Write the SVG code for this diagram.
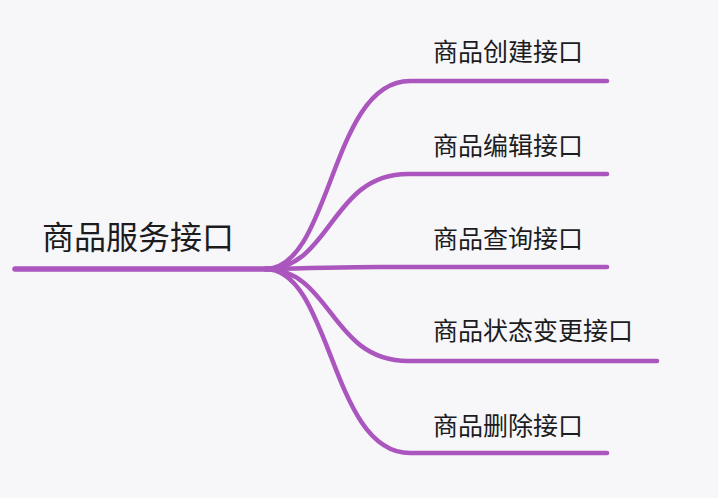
<svg xmlns="http://www.w3.org/2000/svg" width="718" height="498" viewBox="0 0 718 498">
<style>
.t{font-family:"Noto Sans CJK SC","Noto Sans",sans-serif;fill:#1c1c1e}
.root{font-size:32px}
.child{font-size:25px}
.ln{fill:none;stroke:#AA56BE;stroke-linecap:round}
</style>
<rect width="718" height="498" fill="#F7F7F9"/>
<g id="connectors">
<path class="ln" d="M265,269 C332,269 330,81 410,81 L607,81" stroke-width="4.5"/>
<path class="ln" d="M265,269 C332,269 330,174 408,174 L607,174" stroke-width="4.5"/>
<path class="ln" d="M265,269 C330,268 340,267 380,267 L607,267" stroke-width="4.5"/>
<path class="ln" d="M265,269 C332,269 330,361 408,361 L657,361" stroke-width="4.5"/>
<path class="ln" d="M265,269 C332,269 330,453 410,453 L607,453" stroke-width="4.5"/>
</g>
<g id="root">
<line class="ln" x1="15" y1="269" x2="268" y2="269" stroke-width="5.5"/>
<text class="t root" x="42" y="249">商品服务接口</text>
</g>
<g id="n1"><text class="t child" x="433" y="61">商品创建接口</text></g>
<g id="n2"><text class="t child" x="433" y="155">商品编辑接口</text></g>
<g id="n3"><text class="t child" x="433" y="248">商品查询接口</text></g>
<g id="n4"><text class="t child" x="433" y="340">商品状态变更接口</text></g>
<g id="n5"><text class="t child" x="433" y="435">商品删除接口</text></g>
</svg>
